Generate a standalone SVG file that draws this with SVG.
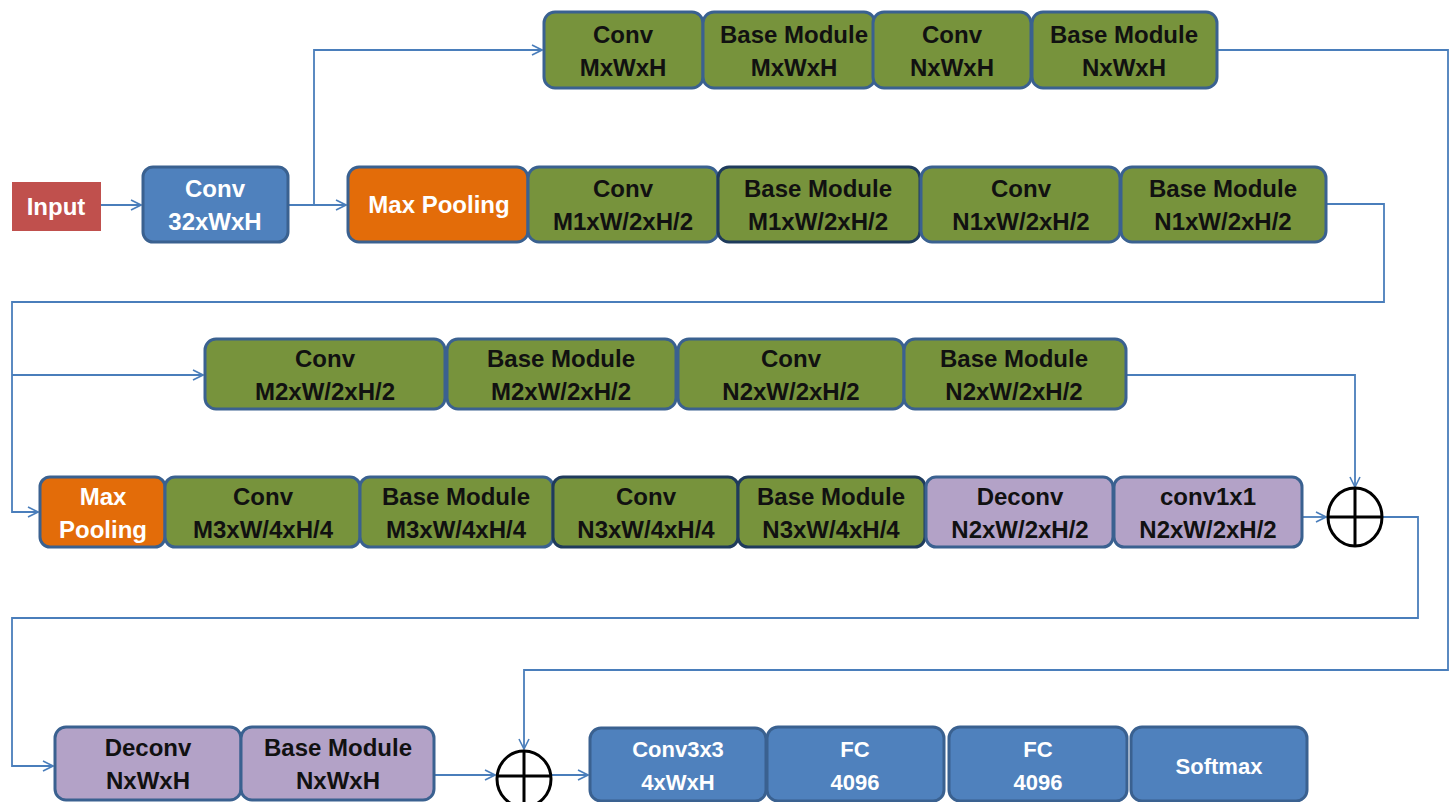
<svg xmlns="http://www.w3.org/2000/svg" width="1456" height="802" viewBox="0 0 1456 802">
<style>
.b{stroke:#3A6190;stroke-width:3}
.bd{stroke:#1F3B5C;stroke-width:3}
.g{fill:#77933C}
.o{fill:#E36C09}
.p{fill:#B3A2C7}
.bl{fill:#4F81BD}
.r{fill:#C0504D}
text{font-family:"Liberation Sans",Arial,sans-serif;font-weight:bold;font-size:24px;text-anchor:middle}
.k{fill:#111}
.w{fill:#fff}
.c{font-size:22px}
.ln{fill:none;stroke:#4A7EBB;stroke-width:1.8}
.sum{fill:#fff;stroke:#000;stroke-width:3}
</style>
<defs>
<marker id="a" markerWidth="12" markerHeight="12" refX="11" refY="6" orient="auto" markerUnits="userSpaceOnUse">
<path d="M1,1 L11,6 L1,11" fill="none" stroke="#4A7EBB" stroke-width="1.6"/>
</marker>
</defs>
<g id="connectors">
<path class="ln" d="M101,205 H141" marker-end="url(#a)"/>
<path class="ln" d="M288,205 H346" marker-end="url(#a)"/>
<path class="ln" d="M314,205 V50 H542" marker-end="url(#a)"/>
<path class="ln" d="M1217,50 H1448 V670 H524 V749" marker-end="url(#a)"/>
<path class="ln" d="M1326,204 H1384 V302 H12 V512 H38" marker-end="url(#a)"/>
<path class="ln" d="M12,375 H203" marker-end="url(#a)"/>
<path class="ln" d="M1126,375 H1355 V487" marker-end="url(#a)"/>
<path class="ln" d="M1302,517 H1326" marker-end="url(#a)"/>
<path class="ln" d="M1382,517 H1418 V618 H12 V766 H53" marker-end="url(#a)"/>
<path class="ln" d="M434,775 H495" marker-end="url(#a)"/>
<path class="ln" d="M551,775 H588" marker-end="url(#a)"/>
</g>
<g id="input"><rect class="r" x="12" y="182" width="89" height="49"/><text class="w" x="56" y="215">Input</text></g>
<g id="conv32"><rect class="bl b" x="143" y="167" width="145" height="75" rx="10"/><text class="w" x="215" y="197">Conv</text><text class="w" x="215" y="230">32xWxH</text></g>

<g id="r1c1"><rect class="g b" x="544" y="12" width="159" height="76" rx="11"/><text class="k" x="623" y="43">Conv</text><text class="k" x="623" y="76">MxWxH</text></g>
<g id="r1c2"><rect class="g b" x="703" y="12" width="172" height="76" rx="11"/><text class="k" x="794" y="43">Base Module</text><text class="k" x="794" y="76">MxWxH</text></g>
<g id="r1c3"><rect class="g b" x="873" y="12" width="158" height="76" rx="11"/><text class="k" x="952" y="43">Conv</text><text class="k" x="952" y="76">NxWxH</text></g>
<g id="r1c4"><rect class="g b" x="1032" y="12" width="185" height="76" rx="11"/><text class="k" x="1124" y="43">Base Module</text><text class="k" x="1124" y="76">NxWxH</text></g>

<g id="r2mp"><rect class="o b" x="348" y="167" width="180" height="75" rx="11"/><text class="w" x="439" y="213">Max Pooling</text></g>
<g id="r2c1"><rect class="g b" x="528" y="167" width="190" height="75" rx="11"/><text class="k" x="623" y="197">Conv</text><text class="k" x="623" y="230">M1xW/2xH/2</text></g>
<g id="r2c2"><rect class="g bd" x="718" y="167" width="202" height="75" rx="11"/><text class="k" x="818" y="197">Base Module</text><text class="k" x="818" y="230">M1xW/2xH/2</text></g>
<g id="r2c3"><rect class="g b" x="921" y="167" width="199" height="75" rx="11"/><text class="k" x="1021" y="197">Conv</text><text class="k" x="1021" y="230">N1xW/2xH/2</text></g>
<g id="r2c4"><rect class="g b" x="1121" y="167" width="205" height="75" rx="11"/><text class="k" x="1223" y="197">Base Module</text><text class="k" x="1223" y="230">N1xW/2xH/2</text></g>

<g id="r3c1"><rect class="g b" x="205" y="339" width="240" height="70" rx="11"/><text class="k" x="325" y="367">Conv</text><text class="k" x="325" y="400">M2xW/2xH/2</text></g>
<g id="r3c2"><rect class="g b" x="447" y="339" width="229" height="70" rx="11"/><text class="k" x="561" y="367">Base Module</text><text class="k" x="561" y="400">M2xW/2xH/2</text></g>
<g id="r3c3"><rect class="g b" x="678" y="339" width="226" height="70" rx="11"/><text class="k" x="791" y="367">Conv</text><text class="k" x="791" y="400">N2xW/2xH/2</text></g>
<g id="r3c4"><rect class="g b" x="904" y="339" width="222" height="70" rx="11"/><text class="k" x="1014" y="367">Base Module</text><text class="k" x="1014" y="400">N2xW/2xH/2</text></g>

<g id="r4mp"><rect class="o b" x="40" y="477" width="125" height="70" rx="10"/><text class="w" x="103" y="505">Max</text><text class="w" x="103" y="538">Pooling</text></g>
<g id="r4c1"><rect class="g b" x="165" y="477" width="195" height="70" rx="10"/><text class="k" x="263" y="505">Conv</text><text class="k" x="263" y="538">M3xW/4xH/4</text></g>
<g id="r4c2"><rect class="g b" x="360" y="477" width="193" height="70" rx="10"/><text class="k" x="456" y="505">Base Module</text><text class="k" x="456" y="538">M3xW/4xH/4</text></g>
<g id="r4c3"><rect class="g bd" x="553" y="477" width="185" height="70" rx="10"/><text class="k" x="646" y="505">Conv</text><text class="k" x="646" y="538">N3xW/4xH/4</text></g>
<g id="r4c4"><rect class="g bd" x="738" y="477" width="187" height="70" rx="10"/><text class="k" x="831" y="505">Base Module</text><text class="k" x="831" y="538">N3xW/4xH/4</text></g>
<g id="r4c5"><rect class="p b" x="926" y="477" width="187" height="70" rx="10"/><text class="k" x="1020" y="505">Deconv</text><text class="k" x="1020" y="538">N2xW/2xH/2</text></g>
<g id="r4c6"><rect class="p b" x="1114" y="477" width="188" height="70" rx="10"/><text class="k" x="1208" y="505">conv1x1</text><text class="k" x="1208" y="538">N2xW/2xH/2</text></g>
<g id="sum1"><ellipse class="sum" cx="1355" cy="517" rx="27" ry="29"/><path d="M1355,488 V546 M1328,517 H1382" stroke="#000" stroke-width="3"/></g>

<g id="r5c1"><rect class="p b" x="55" y="727" width="186" height="73" rx="11"/><text class="k" x="148" y="756">Deconv</text><text class="k" x="148" y="789">NxWxH</text></g>
<g id="r5c2"><rect class="p b" x="241" y="727" width="193" height="73" rx="11"/><text class="k" x="338" y="756">Base Module</text><text class="k" x="338" y="789">NxWxH</text></g>
<g id="sum2"><ellipse class="sum" cx="524" cy="779" rx="27" ry="28"/><path d="M524,751 V807 M497,776 H551" stroke="#000" stroke-width="3"/></g>
<g id="r5c3"><rect class="bl b" x="590" y="728" width="176" height="73" rx="11"/><text class="w c" x="678" y="757">Conv3x3</text><text class="w c" x="678" y="790">4xWxH</text></g>
<g id="r5c4"><rect class="bl b" x="767" y="727" width="177" height="74" rx="11"/><text class="w c" x="855" y="757">FC</text><text class="w c" x="855" y="790">4096</text></g>
<g id="r5c5"><rect class="bl b" x="949" y="727" width="178" height="74" rx="11"/><text class="w c" x="1038" y="757">FC</text><text class="w c" x="1038" y="790">4096</text></g>
<g id="r5c6"><rect class="bl b" x="1131" y="727" width="176" height="74" rx="11"/><text class="w c" x="1219" y="774">Softmax</text></g>
</svg>
